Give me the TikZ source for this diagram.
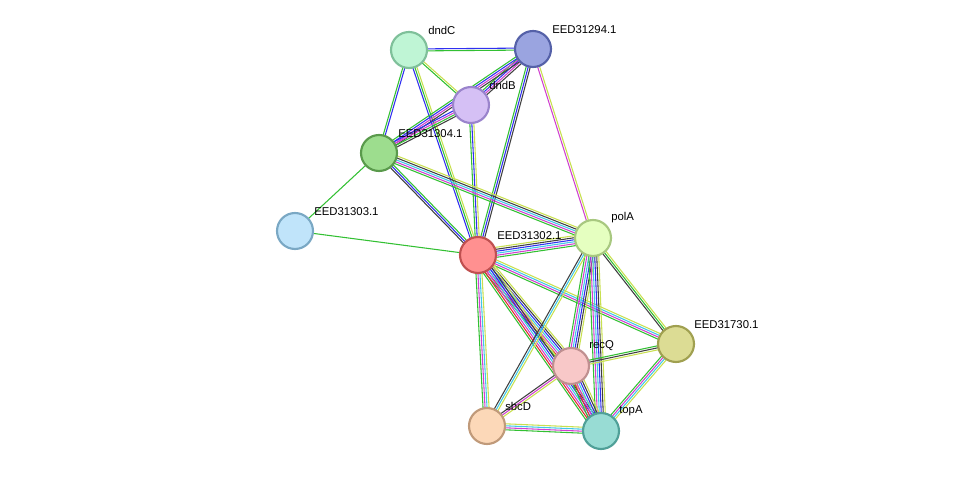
\documentclass[tikz,border=0pt]{standalone}
\usepackage{fontspec}
\setmainfont{Liberation Sans}
\usetikzlibrary{backgrounds,calc}
\definecolor{lgreen}{HTML}{33C033}
\definecolor{lblue}{HTML}{3030F0}
\definecolor{lblack}{HTML}{404040}
\definecolor{lmag}{HTML}{D040D0}
\definecolor{lcyan}{HTML}{40C8E8}
\definecolor{lyel}{HTML}{C8E050}
\definecolor{lred}{HTML}{E03030}
\newcommand\linkpair[3]{%
  \global\def\nlines{0}%
  \foreach \c in {#3}{\pgfmathtruncatemacro\t{\nlines+1}\global\let\nlines\t}%
  \foreach \c [count=\i] in {#3}{%
    \pgfmathsetmacro\o{(\i-(\nlines+1)/2)*1.5}%
    \draw[link,\c] ($(#1)!\o pt!90:(#2)$) -- ($(#2)!\o pt!-90:(#1)$);}}
\begin{document}
\begin{tikzpicture}
		[x=0.75pt,y=-0.75pt,
		prot/.style={circle,minimum size=27pt,inner sep=0pt,line width=1.6pt},
		link/.style={line width=0.8pt},
		lab/.style={font=\fontsize{8.5}{10}\selectfont,anchor=south west,inner sep=0pt}]

		\useasboundingbox (0,0) rectangle (976,477);

		\node[prot,fill={rgb,255:red,191;green,245;blue,213},draw={rgb,255:red,127;green,192;blue,154}] (dndC) at (409,50) {};
		\node[prot,fill={rgb,255:red,154;green,164;blue,224},draw={rgb,255:red,85;green,97;blue,168}] (eed294) at (533,49) {};
		\node[prot,fill={rgb,255:red,213;green,192;blue,245},draw={rgb,255:red,154;green,132;blue,204}] (dndB) at (471,105) {};
		\node[prot,fill={rgb,255:red,157;green,221;blue,142},draw={rgb,255:red,90;green,154;blue,76}] (eed304) at (379,153) {};
		\node[prot,fill={rgb,255:red,192;green,228;blue,250},draw={rgb,255:red,122;green,168;blue,196}] (eed303) at (295,231) {};
		\node[prot,fill={rgb,255:red,255;green,144;blue,144},draw={rgb,255:red,192;green,80;blue,80}] (eed302) at (478,255) {};
		\node[prot,fill={rgb,255:red,229;green,255;blue,192},draw={rgb,255:red,168;green,200;blue,128}] (polA) at (593,238) {};
		\node[prot,fill={rgb,255:red,220;green,220;blue,148},draw={rgb,255:red,160;green,160;blue,80}] (eed730) at (676,344) {};
		\node[prot,fill={rgb,255:red,248;green,200;blue,200},draw={rgb,255:red,192;green,144;blue,144}] (recQ) at (571,366) {};
		\node[prot,fill={rgb,255:red,252;green,216;blue,184},draw={rgb,255:red,192;green,154;blue,122}] (sbcD) at (487,426) {};
		\node[prot,fill={rgb,255:red,152;green,220;blue,212},draw={rgb,255:red,80;green,160;blue,152}] (topA) at (601,431) {};

		\node[lab] (tdndC) at (428,35) {dndC};
		\node[lab] (t294) at (552,34) {EED31294.1};
		\node[lab] (tdndB) at (489,90) {dndB};
		\node[lab] (t304) at (398,138) {EED31304.1};
		\node[lab] (t303) at (314,216) {EED31303.1};
		\node[lab] (t302) at (497,240) {EED31302.1};
		\node[lab] (tpolA) at (611,223) {polA};
		\node[lab] (t730) at (694,329) {EED31730.1};
		\node[lab] (trecQ) at (589,351) {recQ};
		\node[lab] (tsbcD) at (505,411) {sbcD};
		\node[lab] (ttopA) at (619,416) {topA};

		\begin{pgfonlayer}{background}
			\linkpair{dndC}{eed294}{lgreen,lblue}
			\linkpair{dndC}{dndB}{lgreen,lyel}
			\linkpair{dndC}{eed304}{lgreen,lblue}
			\linkpair{dndC}{eed302}{lblue,lgreen,lyel}
			\linkpair{eed294}{dndB}{lgreen,lblue,lmag,lblack}
			\linkpair{eed294}{eed304}{lgreen,lblue,lmag,lblack}
			\linkpair{eed294}{eed302}{lgreen,lblue,lblack}
			\linkpair{eed294}{polA}{lmag,lyel}
			\linkpair{dndB}{eed304}{lblue,lmag,lgreen,lblack}
			\linkpair{dndB}{eed302}{lgreen,lblue,lyel}
			\linkpair{eed304}{eed303}{lgreen}
			\linkpair{eed304}{eed302}{lblack,lblue,lgreen}
			\linkpair{eed304}{polA}{lgreen,lmag,lcyan,lblack,lyel}
			\linkpair{eed303}{eed302}{lgreen}
			\linkpair{eed302}{polA}{lgreen,lmag,lcyan,lblue,lblack,lyel}
			\linkpair{eed302}{eed730}{lgreen,lmag,lcyan,lyel}
			\linkpair{eed302}{recQ}{lgreen,lred,lmag,lcyan,lblue,lblack,lyel}
			\linkpair{eed302}{sbcD}{lgreen,lmag,lcyan,lyel}
			\linkpair{eed302}{topA}{lgreen,lred,lmag,lcyan,lblue,lblack,lyel}
			\linkpair{polA}{eed730}{lblack,lgreen,lyel}
			\linkpair{polA}{recQ}{lgreen,lmag,lcyan,lblue,lblack,lyel}
			\linkpair{polA}{sbcD}{lblack,lcyan,lyel}
			\linkpair{polA}{topA}{lgreen,lmag,lcyan,lblue,lblack,lyel}
			\linkpair{eed730}{recQ}{lgreen,lblack,lyel}
			\linkpair{eed730}{topA}{lgreen,lmag,lcyan,lyel}
			\linkpair{recQ}{sbcD}{lblack,lmag,lyel}
			\linkpair{recQ}{topA}{lgreen,lred,lmag,lcyan,lblue,lblack,lyel}
			\linkpair{sbcD}{topA}{lgreen,lmag,lcyan,lyel}
		\end{pgfonlayer}
	\end{tikzpicture}
\end{document}
